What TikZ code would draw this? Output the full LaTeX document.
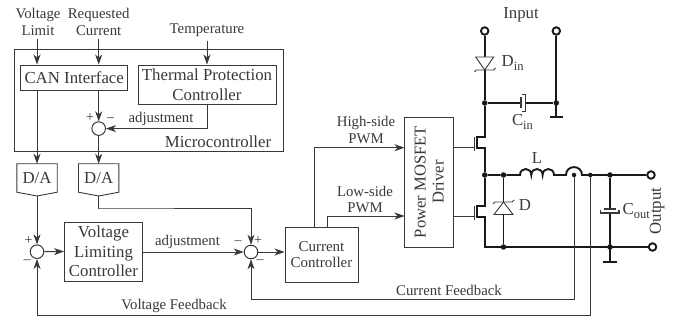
\documentclass[tikz,border=0pt]{standalone}
\usepackage{fontspec}
\setmainfont{Liberation Serif}
\usetikzlibrary{arrows.meta,calc}
\newcommand{\fs}[1]{\fontsize{#1}{#1}\selectfont}
\newcommand{\subs}[1]{\raisebox{-4pt}{\fs{12.5}#1}}
\definecolor{ink}{gray}{0.22}
\tikzset{
  wire/.style={line width=0.9pt,draw=ink},
  flow/.style={wire,-{Stealth[length=10pt,width=7pt,inset=3pt]}},
  power/.style={line width=1.9pt,draw=black!90,line join=miter},
  boxn/.style={draw=ink,line width=0.95pt,rectangle,inner sep=0pt,align=center,text=ink},
  sumn/.style={draw=ink,line width=1pt,circle,fill=white,inner sep=0pt,minimum size=13.6pt},
  lab/.style={inner sep=0pt,align=center,text=ink,font=\fs{14.8}},
  big/.style={font=\fs{16.8}},
  sign/.style={inner sep=0pt,text=ink,font=\fs{14}},
  dot/.style={circle,fill=black!90,inner sep=0pt,minimum size=#1},
  dot/.default=5.5pt,
  term/.style={circle,draw=black!90,line width=1.9pt,fill=white,inner sep=0pt,minimum size=7.5pt},
}
\begin{document}
\begin{tikzpicture}[x=1pt,y=-1pt]
\useasboundingbox (0,0) rectangle (674,320);
% --- blocks
\node[boxn,minimum width=269pt,minimum height=102pt] (micro) at (148.5,100) {};
\node[lab,big] (microlab) at (218,141.5) {Microcontroller};
\node[boxn,big,minimum width=107.5pt,minimum height=25pt] (can) at (74.2,77.5) {CAN Interface};
\node[boxn,big,minimum width=138pt,minimum height=39pt] (thermal) at (207,84.5) {Thermal Protection\\[3pt]Controller};
\node[sumn] (s1) at (98.7,128.6) {};
\node[lab] (vlim) at (38,22) {Voltage\\[1.5pt]Limit};
\node[lab] (rcur) at (98.7,22) {Requested\\[1.5pt]Current};
\node[lab] (temp) at (207,30) {Temperature};
\coordinate (xa) at (37,0);
\node[inner sep=0pt,minimum width=40pt,minimum height=28pt,big,text=ink] (da1) at (37,178) {D/A};
\node[inner sep=0pt,minimum width=40pt,minimum height=28pt,big,text=ink] (da2) at (98.7,178) {D/A};
\draw[wire] (da1.north west) -- (da1.north east) -- (da1.south east) -- ($(da1.south)+(0,3.8)$) -- (da1.south west) -- cycle;
\draw[wire] (da2.north west) -- (da2.north east) -- (da2.south east) -- ($(da2.south)+(0,3.8)$) -- (da2.south west) -- cycle;
\node[sumn] (s2) at (37,251.7) {};
\node[boxn,big,minimum width=78pt,minimum height=59pt] (vlc) at (103.5,251.5) {Voltage\\[2.5pt]Limiting\\[2.5pt]Controller};
\node[sumn] (s3) at (251,252) {};
\node[boxn,minimum width=73pt,minimum height=55pt,font=\fs{15}] (cc) at (321.5,254.5) {Current\\[1.5pt]Controller};
\node[boxn,minimum width=48.5pt,minimum height=130pt] (drv) at (429.2,182) {};
\node[inner sep=0pt,align=center,rotate=90,text=ink,font=\fs{16.6}] (drvtxt) at (429.2,182) {Power MOSFET\\[1.5pt]Driver};
% --- signal connectors
\draw[flow] (vlim.south -| xa) ++(0,3) -- (can.north -| xa);
\draw[flow] ($(rcur.south)+(0,3)$) -- (can.north -| rcur);
\draw[flow] ($(temp.south)+(0,4)$) -- (thermal.north);
\draw[flow] (can.south -| s1) -- (s1.north);
\draw[flow] (thermal.south) |- (s1.east);
\draw[flow] (can.south -| xa) -- (da1.north);
\draw[flow] (s1.south) -- (da2.north);
\draw[flow] ($(da1.south)+(0,3.8)$) -- (s2.north);
\coordinate (k1) at (99,208);
\draw[flow] ($(da2.south)+(0,3.8)$) |- (k1) -| (s3.north);
\draw[flow] (s2.east) -- (vlc.west);
\draw[flow] (vlc.east |- s3) -- (s3.west);
\draw[flow] (s3.east) -- (cc.west |- s3);
% --- MOSFET and power nodes
\coordinate (xq) at (484.7,0);
\node[term] (tin1) at (484.7,31) {};
\node[term] (tin2) at (556.3,31) {};
\node[dot] (j1) at (484.7,103) {};
\node[dot] (j2) at (556.3,103) {};
\node[dot] (sw) at (484.7,175) {};
\node[dot] (dk) at (503.5,175) {};
\node[dot=4.5pt] (ifb) at (574,175) {};
\node[dot=4.5pt] (vfb) at (590.3,175) {};
\node[dot] (co) at (610,175) {};
\node[term] (out1) at (651,175) {};
\node[dot] (db) at (503.5,247) {};
\node[dot] (gb) at (610,247) {};
\node[term] (out2) at (652.5,247) {};
\coordinate (gnd1) at (556.3,117);
\coordinate (gnd2) at (610,262);
% PWM
\coordinate (hs) at (314.5,147.7);
\coordinate (ls) at (327.7,216);
\draw[flow] (hs |- cc.north) |- (drv.west |- hs);
\draw[flow] (ls |- cc.north) |- (drv.west |- ls);
\node[lab] (hslab) at (366,130) {High-side\\[1.5pt]PWM};
\node[lab] (lslab) at (365,199.5) {Low-side\\[1.5pt]PWM};
% gates
\coordinate (g1) at (474,147.7);
\coordinate (g2) at (474,216.5);
\draw[wire] (drv.east |- g1) -- (g1) (g1 |- 0,137) -- (474,151);
\draw[wire] (drv.east |- g2) -- (g2) (g2 |- 0,206) -- (474,220);
% power path
\draw[power] (tin1) -- (j1) -- (484.7,137) -- (477,137) -- (477,148) -- (484.7,148) -- (sw) -- (484.7,206) -- (477,206) -- (477,217) -- (484.7,217) -- (484.7,247) -- (db) -- (out2);
\draw[power] (tin2) -- (gnd1);
\draw[power] (549.5,117) -- (563,117);
\draw[power] (sw) -- (dk) -- (520,175)
  .. controls (520,167) and (531.3,167) .. (531.3,175)
  .. controls (531.3,167) and (542.6,167) .. (542.6,175)
  .. controls (542.6,167) and (554,167) .. (554,175) -- (566,175)
  .. controls (566,164.5) and (582,164.5) .. (582,175) -- (out1);
\draw[power] (co) -- (gnd2);
\draw[power] (603,262) -- (617,262);
% input diode and capacitor
\draw[wire,fill=white] (475.7,57) -- (493.7,57) -- (484.7,70) -- cycle;
\draw[wire] (474.5,72) -- (476,70) -- (493.5,70) -- (495.5,68);
\draw[power] (j1) -- (521,103) (525.5,103) -- (j2);
\draw[wire,line width=1.3pt,fill=white] (521,97.5) -- (521,108.5);
\draw[wire,line width=1.2pt] (521.5,94.5) -- (525.5,94.5) -- (525.5,111.5) -- (521.5,111.5);
% freewheel diode and output capacitor
\draw[power] (dk) -- (db);
\draw[wire,fill=white] (494,214.5) -- (513,214.5) -- (503.5,202) -- cycle;
\draw[wire] (493,204) -- (495,202) -- (512,202) -- (514,200);
\draw[draw=white,line width=3pt] (610,209.5) -- (610,212.5);
\draw[wire,line width=1.5pt] (603.5,209) -- (616,209);
\draw[wire,line width=1.2pt] (600.5,210) -- (600.5,213) -- (619,213) -- (619,210);
% feedback
\draw[flow] (ifb) |- (251,299) -- (s3.south);
\draw[flow] (vfb) |- (37,315.7) -- (s2.south);
% --- labels
\node[lab] (adj1) at (161,118.5) {adjustment};
\node[lab] (adj2) at (187.5,242) {adjustment};
\node[lab] (vflab) at (174,306) {Voltage Feedback};
\node[lab] (cflab) at (449,290) {Current Feedback};
\node[lab,big] (inlab) at (521,15) {Input};
\node[lab,big,anchor=west] (dinlab) at (501.5,63) {D\subs{in}};
\node[lab,big] (cinlab) at (522.5,122) {C\subs{in}};
\node[lab,big] (llab) at (537,158) {L};
\node[lab,big] (dlab) at (525,205) {D};
\node[lab,big,anchor=west] (coutlab) at (622.5,211) {C\subs{out}};
\node[lab,big,rotate=90] (outlab) at (657,211) {Output};
\node[sign] (p1) at (90,117.5) {+};
\node[sign] (m1) at (110.5,120) {–};
\node[sign] (p2) at (28.5,240.5) {+};
\node[sign] (m2) at (27,262) {–};
\node[sign] (m3) at (238,243) {–};
\node[sign] (p3) at (258,241) {+};
\node[sign] (m4) at (260,262) {–};
\end{tikzpicture}
\end{document}
